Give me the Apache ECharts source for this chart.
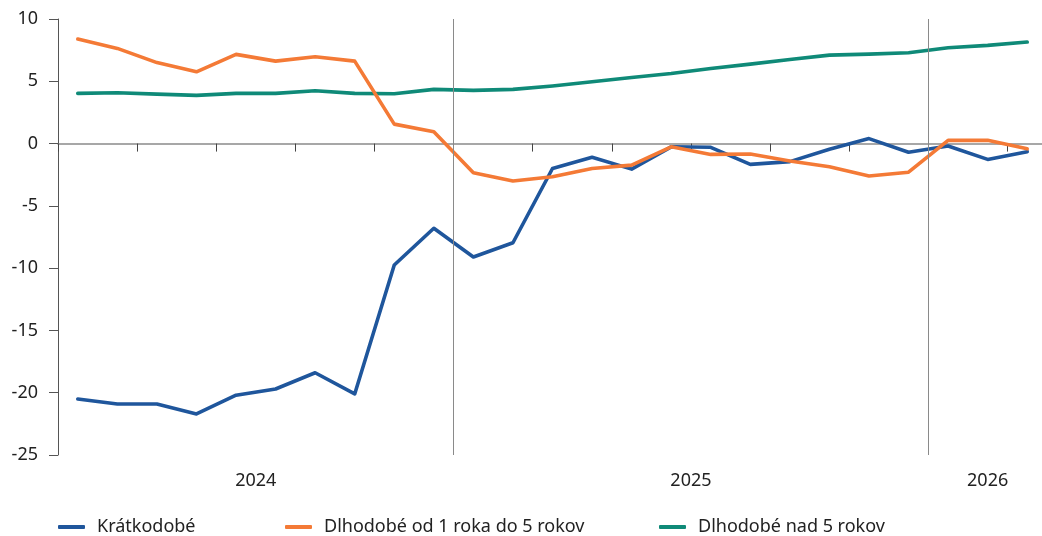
<!DOCTYPE html>
<html>
<head>
<meta charset="utf-8">
<script src="https://cdn.jsdelivr.net/npm/echarts@6/dist/echarts.min.js"></script>
<style>
  html, body { margin: 0; padding: 0; background: #fff; overflow: hidden; }
  /* plocha grafu presahuje za pravy okraj okna ako v predlohe */
  #main { width: 1050px; height: 536px; }
</style>
</head>
<body>
<div id="main"></div>
<script>
// mesiace 03/2024 - 03/2026
const months = ['2024-03','2024-04','2024-05','2024-06','2024-07','2024-08','2024-09','2024-10','2024-11','2024-12',
  '2025-01','2025-02','2025-03','2025-04','2025-05','2025-06','2025-07','2025-08','2025-09','2025-10','2025-11','2025-12',
  '2026-01','2026-02','2026-03'];

const kratkodobe = [-20.5, -20.9, -20.9, -21.7, -20.2, -19.7, -18.4, -20.1, -9.75, -6.8,
  -9.1, -7.96, -2.0, -1.1, -2.05, -0.26, -0.3, -1.67, -1.45, -0.45, 0.4, -0.7,
  -0.2, -1.27, -0.65];
const od1do5 = [8.39, 7.64, 6.5, 5.76, 7.16, 6.62, 6.97, 6.62, 1.56, 0.95,
  -2.34, -3.0, -2.66, -2.0, -1.73, -0.26, -0.87, -0.84, -1.4, -1.86, -2.6, -2.3,
  0.26, 0.26, -0.42];
const nad5 = [4.03, 4.08, 3.97, 3.87, 4.03, 4.03, 4.24, 4.03, 4.0, 4.35,
  4.27, 4.35, 4.62, 4.96, 5.31, 5.63, 6.03, 6.38, 6.75, 7.1, 7.18, 7.29,
  7.69, 7.88, 8.15];

// popisky rokov a hranice rokov (v mesiacoch od zaciatku)
const yearLabels = { 5: '2024', 16: '2025', 23.5: '2026' };
const yearBreaks = [10, 22];

const names = ['Krátkodobé', 'Dlhodobé od 1 roka do 5 rokov', 'Dlhodobé nad 5 rokov'];
const colors = ['#1f569c', '#f47a36', '#0f8a78'];

let myChart = echarts.init(document.getElementById('main'));
const font = '"Noto Sans", sans-serif';

function legendAt(name, left) {
  return {
    data: [name],
    left: left,
    top: 518,
    padding: 0,
    icon: 'roundRect',
    itemWidth: 27,
    itemHeight: 4,
    itemGap: 0,
    textStyle: { color: '#222', fontSize: 18, fontFamily: font, padding: [0, 0, 0, 7] },
    selectedMode: false
  };
}

function line(name, data, color) {
  return {
    name: name,
    type: 'line',
    data: data,
    symbol: 'none',
    color: color,
    lineStyle: { width: 3.6, color: color, cap: 'round', join: 'round' }
  };
}

let option = {
  animation: false,
  legend: [legendAt(names[0], 58), legendAt(names[1], 285), legendAt(names[2], 659)],
  grid: { left: 58, right: 0, top: 19, bottom: 81 },
  xAxis: [
    {
      type: 'category',
      data: months,
      boundaryGap: true,
      axisLine: { onZero: true, lineStyle: { color: '#8a8a8a', width: 1.5 } },
      axisTick: { show: true, length: 8, lineStyle: { color: '#444', width: 1 } },
      axisLabel: { show: false },
      splitLine: { show: false }
    },
    {
      type: 'value',
      min: 0,
      max: 25,
      interval: 0.5,
      position: 'bottom',
      axisLine: { show: false, onZero: false },
      axisTick: { show: false },
      splitLine: { show: false },
      axisLabel: {
        margin: 17,
        color: '#222',
        fontSize: 18,
        fontFamily: font,
        formatter: function (v) { return yearLabels[v] || ''; }
      }
    }
  ],
  yAxis: {
    type: 'value',
    min: -25,
    max: 10,
    interval: 5,
    axisLine: { show: true, lineStyle: { color: '#555', width: 1 } },
    axisTick: { show: true, length: 9, lineStyle: { color: '#555' } },
    splitLine: { show: false },
    axisLabel: { margin: 20, color: '#222', fontSize: 18, fontFamily: font }
  },
  series: [
    {
      type: 'line',
      xAxisIndex: 1,
      data: [],
      silent: true,
      markLine: {
        symbol: 'none',
        label: { show: false },
        lineStyle: { color: '#8a8a8a', width: 1, type: 'solid' },
        data: yearBreaks.map(function (x) { return { xAxis: x }; })
      }
    },
    line(names[2], nad5, colors[2]),
    line(names[0], kratkodobe, colors[0]),
    line(names[1], od1do5, colors[1])
  ]
};

myChart.setOption(option);
</script>
</body>
</html>
